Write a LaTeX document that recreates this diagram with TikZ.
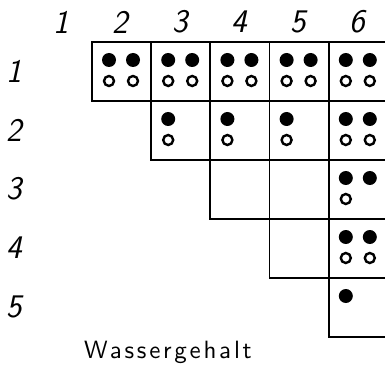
\documentclass[tikz,border=0pt]{standalone}
\usepackage{fontspec}
\newfontfamily\wasserfont{lmsans10-regular.otf}[LetterSpace=11]
\usetikzlibrary{positioning}

\begin{document}
\begin{tikzpicture}[x=1pt,y=-1pt,line width=1.8pt,
    cell/.style={draw,rectangle,minimum width=59.2pt,minimum height=59pt,anchor=north west,inner sep=0pt},
    full dot/.style={circle,fill,minimum size=14pt,inner sep=0pt},
    open dot/.style={circle,draw,line width=2.4pt,minimum size=10pt,inner sep=0pt},
    digit/.style={font=\fontsize{33}{33}\selectfont\sffamily\itshape},
    caption/.style={font=\fontsize{25}{25}\selectfont\wasserfont}]

  \useasboundingbox (0,0) rectangle (385,366);

  % the staircase of cells
  \foreach \r/\c in {1/2,1/3,1/4,1/5,1/6,2/3,2/4,2/5,2/6,3/4,3/5,3/6,4/5,4/6,5/6}
    \node[cell] (c\r\c) at ({91+(\c-2)*59.2},{41+(\r-1)*59}) {};

  % dots in the cells
  \foreach \n in {c12,c13,c14,c15,c16,c23,c24,c25,c26,c36,c46,c56}
    \node[full dot] (\n a) at ([shift={(18,19)}]\n.north west) {};
  \foreach \n in {c12,c13,c14,c15,c16,c26,c36,c46}
    \node[full dot] (\n b) at ([shift={(42,19)}]\n.north west) {};
  \foreach \n in {c12,c13,c14,c15,c16,c23,c24,c25,c26,c36,c46}
    \node[open dot] (\n c) at ([shift={(18,40)}]\n.north west) {};
  \foreach \n in {c12,c13,c14,c15,c16,c26,c46}
    \node[open dot] (\n d) at ([shift={(42,40)}]\n.north west) {};

  % numbering
  \foreach \c in {1,...,6}
    \node[digit] (col\c) at ({61.5+(\c-1)*59.2},22) {\c};
  \foreach \r in {1,...,5}
    \node[digit] (row\r) at (14,{71+(\r-1)*59}) {\r};

  \node[caption] (title) at (168,352) {Wassergehalt};

\end{tikzpicture}
\end{document}
